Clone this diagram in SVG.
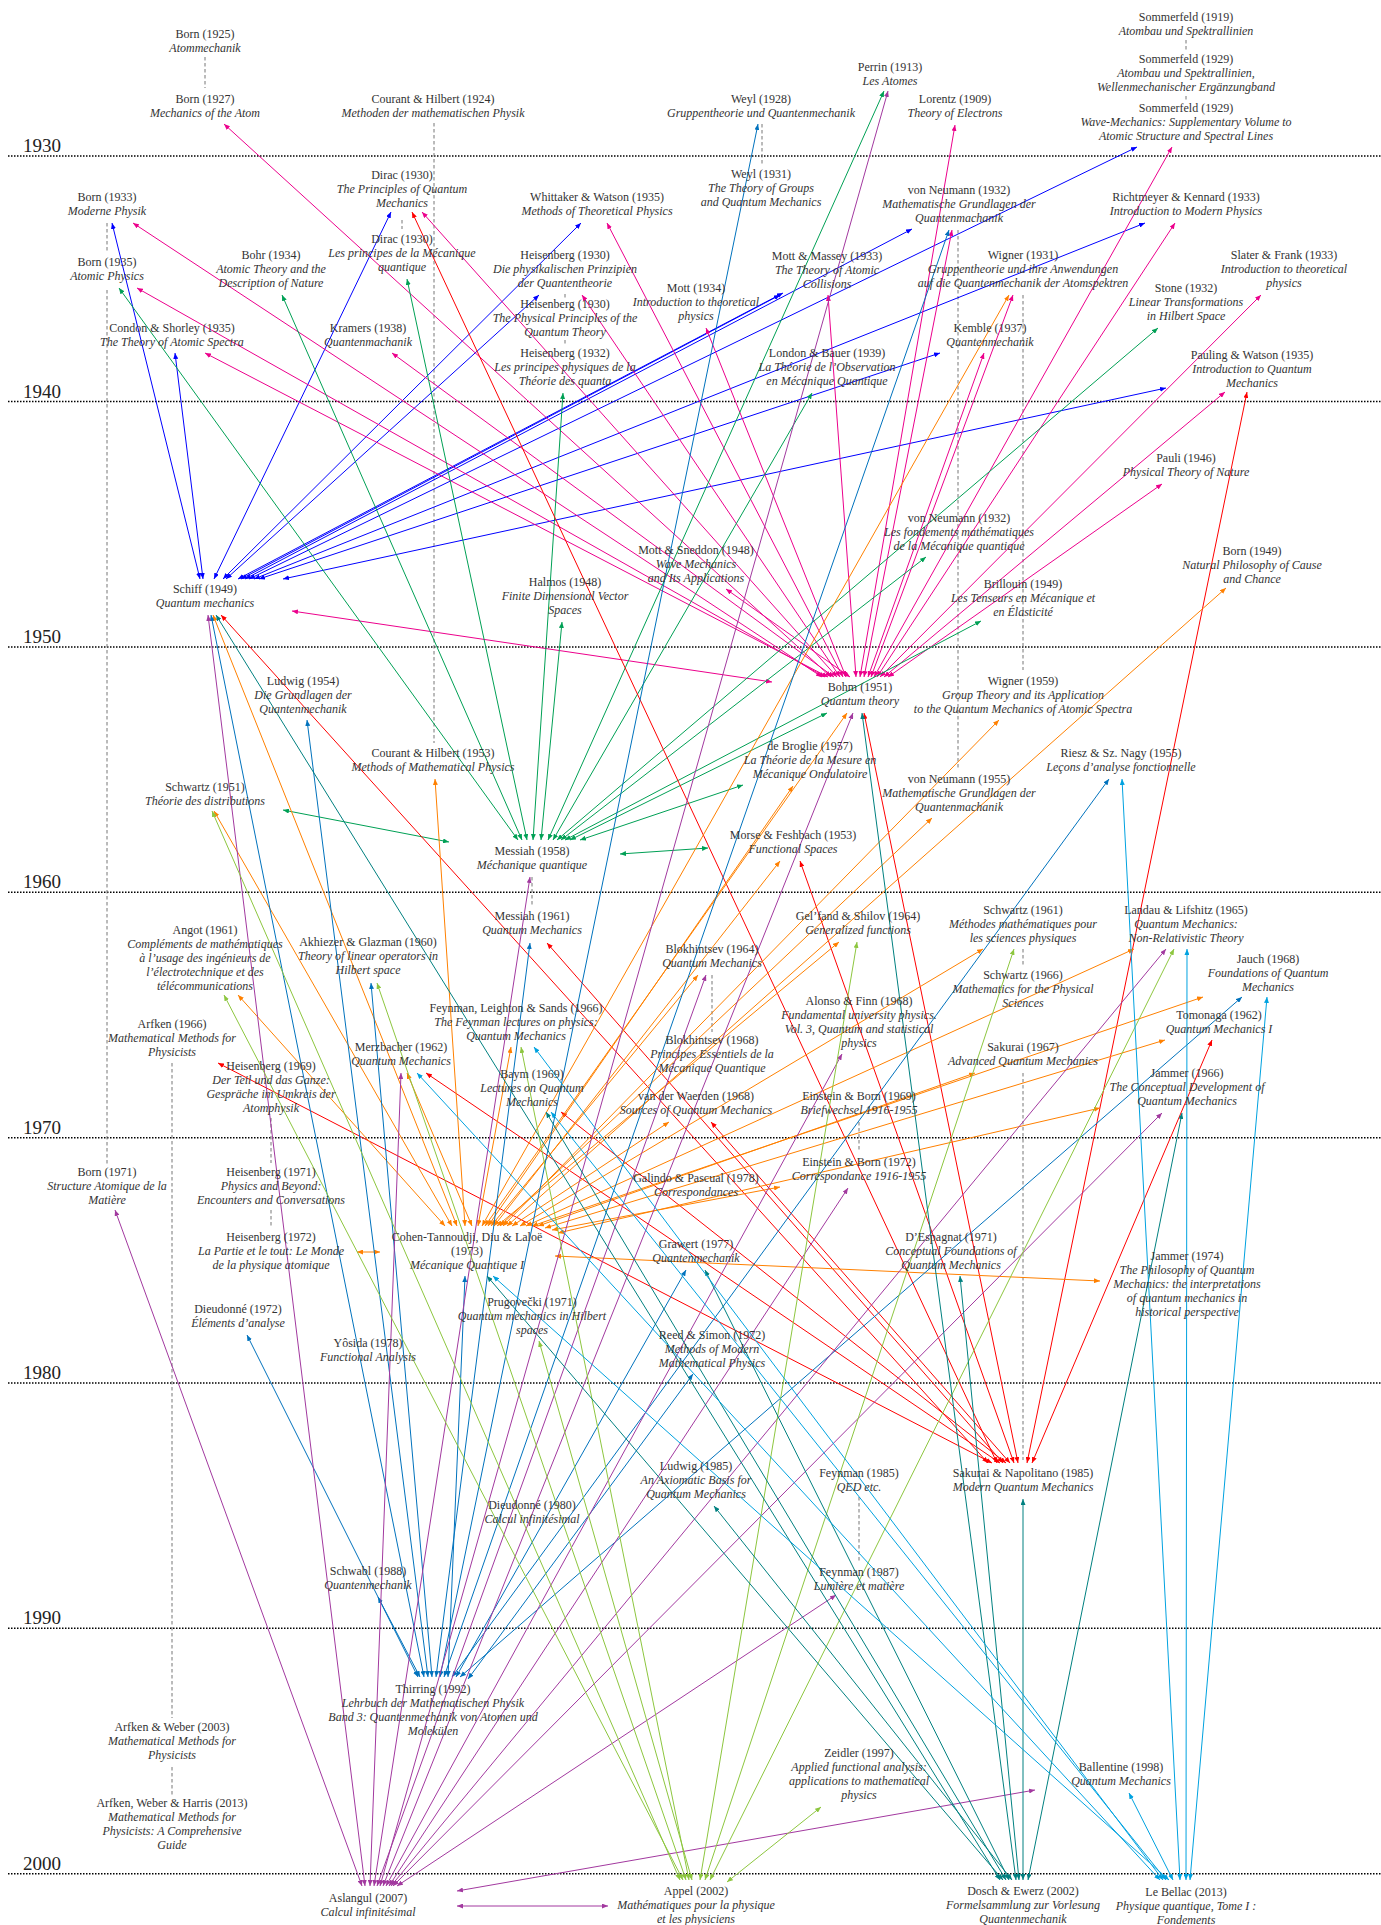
<svg xmlns="http://www.w3.org/2000/svg" width="1381" height="1925" viewBox="0 0 1381 1925">
<defs>
<marker id="mB" viewBox="0 0 6 5" refX="6" refY="2.5" markerWidth="6" markerHeight="5" markerUnits="userSpaceOnUse" orient="auto-start-reverse"><path d="M0,0L6,2.5L0,5z" fill="#0000ff"/></marker>
<marker id="mM" viewBox="0 0 6 5" refX="6" refY="2.5" markerWidth="6" markerHeight="5" markerUnits="userSpaceOnUse" orient="auto-start-reverse"><path d="M0,0L6,2.5L0,5z" fill="#ec008c"/></marker>
<marker id="mG" viewBox="0 0 6 5" refX="6" refY="2.5" markerWidth="6" markerHeight="5" markerUnits="userSpaceOnUse" orient="auto-start-reverse"><path d="M0,0L6,2.5L0,5z" fill="#00a055"/></marker>
<marker id="mR" viewBox="0 0 6 5" refX="6" refY="2.5" markerWidth="6" markerHeight="5" markerUnits="userSpaceOnUse" orient="auto-start-reverse"><path d="M0,0L6,2.5L0,5z" fill="#ff0000"/></marker>
<marker id="mO" viewBox="0 0 6 5" refX="6" refY="2.5" markerWidth="6" markerHeight="5" markerUnits="userSpaceOnUse" orient="auto-start-reverse"><path d="M0,0L6,2.5L0,5z" fill="#ff8000"/></marker>
<marker id="mT" viewBox="0 0 6 5" refX="6" refY="2.5" markerWidth="6" markerHeight="5" markerUnits="userSpaceOnUse" orient="auto-start-reverse"><path d="M0,0L6,2.5L0,5z" fill="#0072bd"/></marker>
<marker id="mP" viewBox="0 0 6 5" refX="6" refY="2.5" markerWidth="6" markerHeight="5" markerUnits="userSpaceOnUse" orient="auto-start-reverse"><path d="M0,0L6,2.5L0,5z" fill="#a2399f"/></marker>
<marker id="mY" viewBox="0 0 6 5" refX="6" refY="2.5" markerWidth="6" markerHeight="5" markerUnits="userSpaceOnUse" orient="auto-start-reverse"><path d="M0,0L6,2.5L0,5z" fill="#8dc63f"/></marker>
<marker id="mD" viewBox="0 0 6 5" refX="6" refY="2.5" markerWidth="6" markerHeight="5" markerUnits="userSpaceOnUse" orient="auto-start-reverse"><path d="M0,0L6,2.5L0,5z" fill="#008080"/></marker>
<marker id="mL" viewBox="0 0 6 5" refX="6" refY="2.5" markerWidth="6" markerHeight="5" markerUnits="userSpaceOnUse" orient="auto-start-reverse"><path d="M0,0L6,2.5L0,5z" fill="#00a2e0"/></marker>
</defs>
<style>
text{font-family:"Liberation Serif","DejaVu Serif",serif;fill:#333;text-anchor:middle;font-size:12px}
.s{font-style:italic}
.yr{font-size:19px;text-anchor:start;fill:#222}
.grid line{stroke:#000;stroke-width:1.5;stroke-dasharray:1.5 1.5}
.ed path{stroke:#777;stroke-width:1;stroke-dasharray:3.5 2.5;fill:none}
#connectors path{fill:none;stroke-width:1}
.cB{stroke:#0000ff;marker-start:url(#mB);marker-end:url(#mB)}
.cM{stroke:#ec008c;marker-start:url(#mM);marker-end:url(#mM)}
.cG{stroke:#00a055;marker-start:url(#mG);marker-end:url(#mG)}
.cR{stroke:#ff0000;marker-start:url(#mR);marker-end:url(#mR)}
.cO{stroke:#ff8000;marker-start:url(#mO);marker-end:url(#mO)}
.cT{stroke:#0072bd;marker-start:url(#mT);marker-end:url(#mT)}
.cP{stroke:#a2399f;marker-start:url(#mP);marker-end:url(#mP)}
.cY{stroke:#8dc63f;marker-start:url(#mY);marker-end:url(#mY)}
.cD{stroke:#008080;marker-start:url(#mD);marker-end:url(#mD)}
.cL{stroke:#00a2e0;marker-start:url(#mL);marker-end:url(#mL)}
</style>
<rect width="1381" height="1925" fill="#fff"/>
<g class="grid">
<line x1="8" y1="156" x2="1381" y2="156"/>
<line x1="8" y1="401.5" x2="1381" y2="401.5"/>
<line x1="8" y1="647" x2="1381" y2="647"/>
<line x1="8" y1="892.3" x2="1381" y2="892.3"/>
<line x1="8" y1="1137.7" x2="1381" y2="1137.7"/>
<line x1="8" y1="1383" x2="1381" y2="1383"/>
<line x1="8" y1="1628.3" x2="1381" y2="1628.3"/>
<line x1="8" y1="1873.7" x2="1381" y2="1873.7"/>
<text class="yr" x="23" y="152">1930</text>
<text class="yr" x="23" y="397.5">1940</text>
<text class="yr" x="23" y="643">1950</text>
<text class="yr" x="23" y="888.3">1960</text>
<text class="yr" x="23" y="1133.7">1970</text>
<text class="yr" x="23" y="1379">1980</text>
<text class="yr" x="23" y="1624.3">1990</text>
<text class="yr" x="23" y="1869.7">2000</text>
</g>
<g class="ed">
<path d="M205 57V88"/>
<path d="M107 223V252M107 290V1164"/>
<path d="M434 123V743"/>
<path d="M402 220V229"/>
<path d="M762 124V165"/>
<path d="M1186 40V52M1186 96V100"/>
<path d="M565 294V298M565 340V345"/>
<path d="M958 230V770"/>
<path d="M1023 295V670"/>
<path d="M532 877V907"/>
<path d="M712 975V1032"/>
<path d="M1023 949V967"/>
<path d="M1023 1073V1460"/>
<path d="M172 1063V1718M172 1767V1795"/>
<path d="M271 1118V1163M271 1210V1227"/>
<path d="M859 1122V1152"/>
<path d="M859 1497V1563"/>
</g>
<g id="connectors">
<g class="cB">
<path d="M112 223L200 579"/><path d="M175 353L203 579"/><path d="M391 212L214 579"/><path d="M581 223L223 579"/><path d="M539 295L226 579"/><path d="M783 293L238 579"/><path d="M780 295L241 579"/><path d="M912 229L245 579"/><path d="M1137 147L249 579"/><path d="M1145 223L254 579"/><path d="M940 353L259 579"/><path d="M1166 388L283 579"/>
</g>
<g class="cM">
<path d="M133 223L822 677"/><path d="M137 288L825 677"/><path d="M205 353L828 677"/><path d="M224 124L831 677"/><path d="M392 353L834 677"/><path d="M422 212L837 677"/><path d="M582 295L840 677"/><path d="M607 223L843 677"/><path d="M706 328L846 677"/><path d="M726 589L850 677"/><path d="M828 295L856 677"/><path d="M955 125L860 677"/><path d="M952 230L864 677"/><path d="M984 353L868 677"/><path d="M1013 295L871 677"/><path d="M1172 147L874 677"/><path d="M1175 223L877 677"/><path d="M1261 295L880 677"/><path d="M1225 392L884 677"/><path d="M1162 484L888 677"/><path d="M292 611L772 682"/>
</g>
<g class="cG">
<path d="M119 288L518 840"/><path d="M282 295L522 840"/><path d="M407 279L527 840"/><path d="M563 393L533 840"/><path d="M562 622L541 840"/><path d="M884 91L548 840"/><path d="M812 393L553 840"/><path d="M1158 328L557 840"/><path d="M926 557L561 840"/><path d="M981 621L565 840"/><path d="M827 713L570 840"/><path d="M743 785L580 840"/><path d="M283 810L449 842"/><path d="M708 848L620 854"/>
</g>
<g class="cR">
<path d="M221 615L988 1463"/><path d="M218 1063L992 1463"/><path d="M412 212L997 1463"/><path d="M426 1073L1000 1463"/><path d="M547 943L1003 1463"/><path d="M561 1112L1006 1463"/><path d="M711 1122L1010 1463"/><path d="M800 861L1014 1463"/><path d="M864 713L1018 1463"/><path d="M1247 392L1027 1463"/><path d="M1212 1040L1032 1463"/>
</g>
<g class="cO">
<path d="M238 995L445 1226"/><path d="M214 811L452 1226"/><path d="M213 615L457 1226"/><path d="M435 779L465 1226"/><path d="M407 1073L472 1226"/><path d="M511 1047L478 1226"/><path d="M1009 295L482 1226"/><path d="M847 713L485 1226"/><path d="M793 786L488 1226"/><path d="M698 975L491 1226"/><path d="M780 861L494 1226"/><path d="M839 942L497 1226"/><path d="M932 818L500 1226"/><path d="M999 720L503 1226"/><path d="M1226 588L507 1226"/><path d="M669 1122L512 1226"/><path d="M983 949L520 1226"/><path d="M1134 949L526 1226"/><path d="M1203 997L532 1226"/><path d="M975 1073L538 1226"/><path d="M1165 1040L545 1228"/><path d="M780 1187L552 1230"/><path d="M1100 1108L558 1233"/><path d="M357 1252L380 1252"/><path d="M1100 1281L555 1256"/>
</g>
<g class="cT">
<path d="M247 1335L418 1677"/><path d="M378 1597L420 1677"/><path d="M211 615L424 1677"/><path d="M307 720L428 1677"/><path d="M371 983L432 1677"/><path d="M530 943L436 1677"/><path d="M758 124L440 1677"/><path d="M949 230L444 1677"/><path d="M465 1276L448 1677"/><path d="M1109 779L452 1677"/><path d="M686 1270L456 1677"/><path d="M1242 997L460 1677"/><path d="M693 1374L468 1679"/>
</g>
<g class="cP">
<path d="M115 1210L362 1886"/><path d="M208 615L365 1886"/><path d="M401 1073L370 1886"/><path d="M530 877L374 1886"/><path d="M706 975L377 1886"/><path d="M888 91L380 1886"/><path d="M853 713L383 1886"/><path d="M842 1054L386 1886"/><path d="M848 1188L389 1886"/><path d="M1166 949L391 1886"/><path d="M1162 1113L393 1886"/><path d="M836 1595L397 1886"/><path d="M1035 1790L457 1891"/><path d="M608 1906L457 1906"/>
</g>
<g class="cY">
<path d="M212 811L680 1880"/><path d="M224 995L683 1880"/><path d="M377 983L686 1880"/><path d="M521 1047L689 1880"/><path d="M539 1341L692 1880"/><path d="M857 942L700 1880"/><path d="M1014 949L705 1880"/><path d="M1174 949L710 1880"/><path d="M821 1807L727 1882"/>
</g>
<g class="cD">
<path d="M216 615L1000 1880"/><path d="M487 1276L1003 1880"/><path d="M546 1112L1006 1880"/><path d="M705 1270L1009 1880"/><path d="M714 1506L1012 1880"/><path d="M862 713L1016 1880"/><path d="M960 1276L1019 1880"/><path d="M1023 1499L1023 1880"/><path d="M1182 1113L1028 1880"/>
</g>
<g class="cL">
<path d="M417 1073L1160 1880"/><path d="M534 1047L1163 1880"/><path d="M551 1112L1166 1880"/><path d="M493 1276L1169 1880"/><path d="M1129 1793L1173 1880"/><path d="M1122 779L1180 1880"/><path d="M1187 949L1186 1880"/><path d="M1267 997L1190 1880"/>
</g>
</g>
<g id="born1925"><text x="205" y="38">Born (1925)</text><text class="s" x="205" y="52">Atommechanik</text></g>
<g id="born1927"><text x="205" y="103">Born (1927)</text><text class="s" x="205" y="117">Mechanics of the Atom</text></g>
<g id="courant1924"><text x="433" y="103">Courant &amp; Hilbert (1924)</text><text class="s" x="433" y="117">Methoden der mathematischen Physik</text></g>
<g id="weyl1928"><text x="761" y="103">Weyl (1928)</text><text class="s" x="761" y="117">Gruppentheorie und Quantenmechanik</text></g>
<g id="perrin1913"><text x="890" y="71">Perrin (1913)</text><text class="s" x="890" y="85">Les Atomes</text></g>
<g id="lorentz1909"><text x="955" y="103">Lorentz (1909)</text><text class="s" x="955" y="117">Theory of Electrons</text></g>
<g id="sommerfeld1919"><text x="1186" y="21">Sommerfeld (1919)</text><text class="s" x="1186" y="35">Atombau und Spektrallinien</text></g>
<g id="sommerfeld1929a"><text x="1186" y="63">Sommerfeld (1929)</text><text class="s" x="1186" y="77">Atombau und Spektrallinien,</text><text class="s" x="1186" y="91">Wellenmechanischer Ergänzungband</text></g>
<g id="sommerfeld1929b"><text x="1186" y="112">Sommerfeld (1929)</text><text class="s" x="1186" y="126">Wave-Mechanics: Supplementary Volume to</text><text class="s" x="1186" y="140">Atomic Structure and Spectral Lines</text></g>
<g id="dirac1930"><text x="402" y="179">Dirac (1930)</text><text class="s" x="402" y="193">The Principles of Quantum</text><text class="s" x="402" y="207">Mechanics</text></g>
<g id="dirac1930fr"><text x="402" y="243">Dirac (1930)</text><text class="s" x="402" y="257">Les principes de la Mécanique</text><text class="s" x="402" y="271">quantique</text></g>
<g id="born1933"><text x="107" y="201">Born (1933)</text><text class="s" x="107" y="215">Moderne Physik</text></g>
<g id="born1935"><text x="107" y="266">Born (1935)</text><text class="s" x="107" y="280">Atomic Physics</text></g>
<g id="whittaker1935"><text x="597" y="201">Whittaker &amp; Watson (1935)</text><text class="s" x="597" y="215">Methods of Theoretical Physics</text></g>
<g id="weyl1931"><text x="761" y="178">Weyl (1931)</text><text class="s" x="761" y="192">The Theory of Groups</text><text class="s" x="761" y="206">and Quantum Mechanics</text></g>
<g id="vonneumann1932"><text x="959" y="194">von Neumann (1932)</text><text class="s" x="959" y="208">Mathematische Grundlagen der</text><text class="s" x="959" y="222">Quantenmachanik</text></g>
<g id="richtmeyer1933"><text x="1186" y="201">Richtmeyer &amp; Kennard (1933)</text><text class="s" x="1186" y="215">Introduction to Modern Physics</text></g>
<g id="bohr1934"><text x="271" y="259">Bohr (1934)</text><text class="s" x="271" y="273">Atomic Theory and the</text><text class="s" x="271" y="287">Description of Nature</text></g>
<g id="heisenberg1930a"><text x="565" y="259">Heisenberg (1930)</text><text class="s" x="565" y="273">Die physikalischen Prinzipien</text><text class="s" x="565" y="287">der Quantentheorie</text></g>
<g id="heisenberg1930b"><text x="565" y="308">Heisenberg (1930)</text><text class="s" x="565" y="322">The Physical Principles of the</text><text class="s" x="565" y="336">Quantum Theory</text></g>
<g id="heisenberg1932"><text x="565" y="357">Heisenberg (1932)</text><text class="s" x="565" y="371">Les principes physiques de la</text><text class="s" x="565" y="385">Théorie des quanta</text></g>
<g id="mottmassey1933"><text x="827" y="260">Mott &amp; Massey (1933)</text><text class="s" x="827" y="274">The Theory of Atomic</text><text class="s" x="827" y="288">Collisions</text></g>
<g id="mott1934"><text x="696" y="292">Mott (1934)</text><text class="s" x="696" y="306">Introduction to theoretical</text><text class="s" x="696" y="320">physics</text></g>
<g id="wigner1931"><text x="1023" y="259">Wigner (1931)</text><text class="s" x="1023" y="273">Gruppentheorie und ihre Anwendungen</text><text class="s" x="1023" y="287">auf die Quantenmechanik der Atomspektren</text></g>
<g id="slater1933"><text x="1284" y="259">Slater &amp; Frank (1933)</text><text class="s" x="1284" y="273">Introduction to theoretical</text><text class="s" x="1284" y="287">physics</text></g>
<g id="stone1932"><text x="1186" y="292">Stone (1932)</text><text class="s" x="1186" y="306">Linear Transformations</text><text class="s" x="1186" y="320">in Hilbert Space</text></g>
<g id="condon1935"><text x="172" y="332">Condon &amp; Shorley (1935)</text><text class="s" x="172" y="346">The Theory of Atomic Spectra</text></g>
<g id="kramers1938"><text x="368" y="332">Kramers (1938)</text><text class="s" x="368" y="346">Quantenmachanik</text></g>
<g id="kemble1937"><text x="990" y="332">Kemble (1937)</text><text class="s" x="990" y="346">Quantenmechanik</text></g>
<g id="london1939"><text x="827" y="357">London &amp; Bauer (1939)</text><text class="s" x="827" y="371">La Théorie de l’Observation</text><text class="s" x="827" y="385">en Mécanique Quantique</text></g>
<g id="pauling1935"><text x="1252" y="359">Pauling &amp; Watson (1935)</text><text class="s" x="1252" y="373">Introduction to Quantum</text><text class="s" x="1252" y="387">Mechanics</text></g>
<g id="pauli1946"><text x="1186" y="462">Pauli (1946)</text><text class="s" x="1186" y="476">Physical Theory of Nature</text></g>
<g id="born1949"><text x="1252" y="555">Born (1949)</text><text class="s" x="1252" y="569">Natural Philosophy of Cause</text><text class="s" x="1252" y="583">and Chance</text></g>
<g id="vonneumann1932fr"><text x="959" y="522">von Neumann (1932)</text><text class="s" x="959" y="536">Les fondements mathématiques</text><text class="s" x="959" y="550">de la Mécanique quantique</text></g>
<g id="mottsneddon1948"><text x="696" y="554">Mott &amp; Sneddon (1948)</text><text class="s" x="696" y="568">Wave Mechanics</text><text class="s" x="696" y="582">and Its Applications</text></g>
<g id="halmos1948"><text x="565" y="586">Halmos (1948)</text><text class="s" x="565" y="600">Finite Dimensional Vector</text><text class="s" x="565" y="614">Spaces</text></g>
<g id="brillouin1949"><text x="1023" y="588">Brillouin (1949)</text><text class="s" x="1023" y="602">Les Tenseurs en Mécanique et</text><text class="s" x="1023" y="616">en Élasticité</text></g>
<g id="schiff1949"><text x="205" y="593">Schiff (1949)</text><text class="s" x="205" y="607">Quantum mechanics</text></g>
<g id="bohm1951"><text x="860" y="691">Bohm (1951)</text><text class="s" x="860" y="705">Quantum theory</text></g>
<g id="ludwig1954"><text x="303" y="685">Ludwig (1954)</text><text class="s" x="303" y="699">Die Grundlagen der</text><text class="s" x="303" y="713">Quantenmechanik</text></g>
<g id="wigner1959"><text x="1023" y="685">Wigner (1959)</text><text class="s" x="1023" y="699">Group Theory and its Application</text><text class="s" x="1023" y="713">to the Quantum Mechanics of Atomic Spectra</text></g>
<g id="debroglie1957"><text x="810" y="750">de Broglie (1957)</text><text class="s" x="810" y="764">La Théorie de la Mesure en</text><text class="s" x="810" y="778">Mécanique Ondulatoire</text></g>
<g id="riesz1955"><text x="1121" y="757">Riesz &amp; Sz. Nagy (1955)</text><text class="s" x="1121" y="771">Leçons d’analyse fonctionnelle</text></g>
<g id="courant1953"><text x="433" y="757">Courant &amp; Hilbert (1953)</text><text class="s" x="433" y="771">Methods of Mathematical Physics</text></g>
<g id="schwartz1951"><text x="205" y="791">Schwartz (1951)</text><text class="s" x="205" y="805">Théorie des distributions</text></g>
<g id="vonneumann1955"><text x="959" y="783">von Neumann (1955)</text><text class="s" x="959" y="797">Mathematische Grundlagen der</text><text class="s" x="959" y="811">Quantenmachanik</text></g>
<g id="messiah1958"><text x="532" y="855">Messiah (1958)</text><text class="s" x="532" y="869">Méchanique quantique</text></g>
<g id="morse1953"><text x="793" y="839">Morse &amp; Feshbach (1953)</text><text class="s" x="793" y="853">Functional Spaces</text></g>
<g id="messiah1961"><text x="532" y="920">Messiah (1961)</text><text class="s" x="532" y="934">Quantum Mechanics</text></g>
<g id="angot1961"><text x="205" y="934">Angot (1961)</text><text class="s" x="205" y="948">Compléments de mathématiques</text><text class="s" x="205" y="962">à l’usage des ingénieurs de</text><text class="s" x="205" y="976">l’électrotechnique et des</text><text class="s" x="205" y="990">télécommunications</text></g>
<g id="akhiezer1960"><text x="368" y="946">Akhiezer &amp; Glazman (1960)</text><text class="s" x="368" y="960">Theory of linear operators in</text><text class="s" x="368" y="974">Hilbert space</text></g>
<g id="gelfand1964"><text x="858" y="920">Gel’fand &amp; Shilov (1964)</text><text class="s" x="858" y="934">Generalized functions</text></g>
<g id="schwartz1961"><text x="1023" y="914">Schwartz (1961)</text><text class="s" x="1023" y="928">Méthodes mathématiques pour</text><text class="s" x="1023" y="942">les sciences physiques</text></g>
<g id="landau1965"><text x="1186" y="914">Landau &amp; Lifshitz (1965)</text><text class="s" x="1186" y="928">Quantum Mechanics:</text><text class="s" x="1186" y="942">Non-Relativistic Theory</text></g>
<g id="blokhintsev1964"><text x="712" y="953">Blokhintsev (1964)</text><text class="s" x="712" y="967">Quantum Mechanics</text></g>
<g id="jauch1968"><text x="1268" y="963">Jauch (1968)</text><text class="s" x="1268" y="977">Foundations of Quantum</text><text class="s" x="1268" y="991">Mechanics</text></g>
<g id="feynmanls1966"><text x="516" y="1012">Feynman, Leighton &amp; Sands (1966)</text><text class="s" x="516" y="1026">The Feynman lectures on physics:</text><text class="s" x="516" y="1040">Quantum Mechanics</text></g>
<g id="alonso1968"><text x="859" y="1005">Alonso &amp; Finn (1968)</text><text class="s" x="859" y="1019">Fundamental university physics.</text><text class="s" x="859" y="1033">Vol. 3, Quantum and statistical</text><text class="s" x="859" y="1047">physics</text></g>
<g id="schwartz1966"><text x="1023" y="979">Schwartz (1966)</text><text class="s" x="1023" y="993">Mathematics for the Physical</text><text class="s" x="1023" y="1007">Sciences</text></g>
<g id="tomonaga1962"><text x="1219" y="1019">Tomonaga (1962)</text><text class="s" x="1219" y="1033">Quantum Mechanics I</text></g>
<g id="arfken1966"><text x="172" y="1028">Arfken (1966)</text><text class="s" x="172" y="1042">Mathematical Methods for</text><text class="s" x="172" y="1056">Physicists</text></g>
<g id="merzbacher1962"><text x="401" y="1051">Merzbacher (1962)</text><text class="s" x="401" y="1065">Quantum Mechanics</text></g>
<g id="blokhintsev1968"><text x="712" y="1044">Blokhintsev (1968)</text><text class="s" x="712" y="1058">Principes Essentiels de la</text><text class="s" x="712" y="1072">Mécanique Quantique</text></g>
<g id="sakurai1967"><text x="1023" y="1051">Sakurai (1967)</text><text class="s" x="1023" y="1065">Advanced Quantum Mechanics</text></g>
<g id="heisenberg1969"><text x="271" y="1070">Heisenberg (1969)</text><text class="s" x="271" y="1084">Der Teil und das Ganze:</text><text class="s" x="271" y="1098">Gespräche im Umkreis der</text><text class="s" x="271" y="1112">Atomphysik</text></g>
<g id="baym1969"><text x="532" y="1078">Baym (1969)</text><text class="s" x="532" y="1092">Lectures on Quantum</text><text class="s" x="532" y="1106">Mechanics</text></g>
<g id="waerden1968"><text x="696" y="1100">van der Waerden (1968)</text><text class="s" x="696" y="1114">Sources of Quantum Mechanics</text></g>
<g id="einstein1969"><text x="859" y="1100">Einstein &amp; Born (1969)</text><text class="s" x="859" y="1114">Briefwechsel 1916-1955</text></g>
<g id="jammer1966"><text x="1187" y="1077">Jammer (1966)</text><text class="s" x="1187" y="1091">The Conceptual Development of</text><text class="s" x="1187" y="1105">Quantum Mechanics</text></g>
<g id="born1971"><text x="107" y="1176">Born (1971)</text><text class="s" x="107" y="1190">Structure Atomique de la</text><text class="s" x="107" y="1204">Matière</text></g>
<g id="heisenberg1971"><text x="271" y="1176">Heisenberg (1971)</text><text class="s" x="271" y="1190">Physics and Beyond:</text><text class="s" x="271" y="1204">Encounters and Conversations</text></g>
<g id="galindo1978"><text x="696" y="1182">Galindo &amp; Pascual (1978)</text><text class="s" x="696" y="1196">Correspondances</text></g>
<g id="einstein1972"><text x="859" y="1166">Einstein &amp; Born (1972)</text><text class="s" x="859" y="1180">Correspondance 1916-1955</text></g>
<g id="heisenberg1972"><text x="271" y="1241">Heisenberg (1972)</text><text class="s" x="271" y="1255">La Partie et le tout: Le Monde</text><text class="s" x="271" y="1269">de la physique atomique</text></g>
<g id="cohen1973"><text x="467" y="1241">Cohen-Tannoudji, Diu &amp; Laloë</text><text x="467" y="1255">(1973)</text><text class="s" x="467" y="1269">Mécanique Quantique I</text></g>
<g id="grawert1977"><text x="696" y="1248">Grawert (1977)</text><text class="s" x="696" y="1262">Quantenmechanik</text></g>
<g id="despagnat1971"><text x="951" y="1241">D’Espagnat (1971)</text><text class="s" x="951" y="1255">Conceptual Foundations of</text><text class="s" x="951" y="1269">Quantum Mechanics</text></g>
<g id="jammer1974"><text x="1187" y="1260">Jammer (1974)</text><text class="s" x="1187" y="1274">The Philosophy of Quantum</text><text class="s" x="1187" y="1288">Mechanics: the interpretations</text><text class="s" x="1187" y="1302">of quantum mechanics in</text><text class="s" x="1187" y="1316">historical perspective</text></g>
<g id="prugovecki1971"><text x="532" y="1306">Prugovečki (1971)</text><text class="s" x="532" y="1320">Quantum mechanics in Hilbert</text><text class="s" x="532" y="1334">spaces</text></g>
<g id="dieudonne1972"><text x="238" y="1313">Dieudonné (1972)</text><text class="s" x="238" y="1327">Éléments d’analyse</text></g>
<g id="reed1972"><text x="712" y="1339">Reed &amp; Simon (1972)</text><text class="s" x="712" y="1353">Methods of Modern</text><text class="s" x="712" y="1367">Mathematical Physics</text></g>
<g id="yosida1978"><text x="368" y="1347">Yôsida (1978)</text><text class="s" x="368" y="1361">Functional Analysis</text></g>
<g id="ludwig1985"><text x="696" y="1470">Ludwig (1985)</text><text class="s" x="696" y="1484">An Axiomatic Basis for</text><text class="s" x="696" y="1498">Quantum Mechanics</text></g>
<g id="feynman1985"><text x="859" y="1477">Feynman (1985)</text><text class="s" x="859" y="1491">QED etc.</text></g>
<g id="sakurai1985"><text x="1023" y="1477">Sakurai &amp; Napolitano (1985)</text><text class="s" x="1023" y="1491">Modern Quantum Mechanics</text></g>
<g id="dieudonne1980"><text x="532" y="1509">Dieudonné (1980)</text><text class="s" x="532" y="1523">Calcul infinitésimal</text></g>
<g id="schwabl1988"><text x="368" y="1575">Schwabl (1988)</text><text class="s" x="368" y="1589">Quantenmechanik</text></g>
<g id="feynman1987"><text x="859" y="1576">Feynman (1987)</text><text class="s" x="859" y="1590">Lumière et matière</text></g>
<g id="thirring1992"><text x="433" y="1693">Thirring (1992)</text><text class="s" x="433" y="1707">Lehrbuch der Mathematischen Physik</text><text class="s" x="433" y="1721">Band 3: Quantenmechanik von Atomen und</text><text class="s" x="433" y="1735">Molekülen</text></g>
<g id="arfken2003"><text x="172" y="1731">Arfken &amp; Weber (2003)</text><text class="s" x="172" y="1745">Mathematical Methods for</text><text class="s" x="172" y="1759">Physicists</text></g>
<g id="zeidler1997"><text x="859" y="1757">Zeidler (1997)</text><text class="s" x="859" y="1771">Applied functional analysis:</text><text class="s" x="859" y="1785">applications to mathematical</text><text class="s" x="859" y="1799">physics</text></g>
<g id="ballentine1998"><text x="1121" y="1771">Ballentine (1998)</text><text class="s" x="1121" y="1785">Quantum Mechanics</text></g>
<g id="arfken2013"><text x="172" y="1807">Arfken, Weber &amp; Harris (2013)</text><text class="s" x="172" y="1821">Mathematical Methods for</text><text class="s" x="172" y="1835">Physicists: A Comprehensive</text><text class="s" x="172" y="1849">Guide</text></g>
<g id="aslangul2007"><text x="368" y="1902">Aslangul (2007)</text><text class="s" x="368" y="1916">Calcul infinitésimal</text></g>
<g id="appel2002"><text x="696" y="1895">Appel (2002)</text><text class="s" x="696" y="1909">Mathématiques pour la physique</text><text class="s" x="696" y="1923">et les physiciens</text></g>
<g id="dosch2002"><text x="1023" y="1895">Dosch &amp; Ewerz (2002)</text><text class="s" x="1023" y="1909">Formelsammlung zur Vorlesung</text><text class="s" x="1023" y="1923">Quantenmechanik</text></g>
<g id="lebellac2013"><text x="1186" y="1896">Le Bellac (2013)</text><text class="s" x="1186" y="1910">Physique quantique, Tome I :</text><text class="s" x="1186" y="1924">Fondements</text></g>
</svg>
